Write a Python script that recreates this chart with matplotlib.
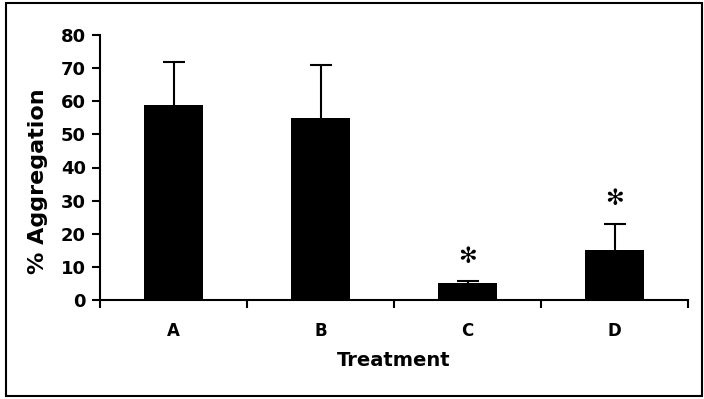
import matplotlib
matplotlib.use("Agg")
import matplotlib.pyplot as plt
from matplotlib.patches import Rectangle
from matplotlib.ticker import FixedLocator, NullFormatter

categories = ["A", "B", "C", "D"]
values = [59, 55, 5, 15]
err_upper = [13, 16, 0.6, 8]
significant = [False, False, True, True]
yticks = [0, 10, 20, 30, 40, 50, 60, 70, 80]

plt.rcParams['font.family'] = ['DejaVu Sans']
fig = plt.figure(figsize=(7.04, 3.99), dpi=100)
ax = fig.add_axes([100/704, 1-300/399, 588/704, 265/399])

x = list(range(len(categories)))
ax.bar(x, values, width=0.4, color="black", zorder=2)
eb = ax.errorbar(x, values, yerr=[[0]*len(values), err_upper], fmt="none",
                 ecolor="black", elinewidth=1.5, capsize=8, capthick=1.5, zorder=1)
eb[1][0].set_visible(False)

for xi, v, e, s in zip(x, values, err_upper, significant):
    if s:
        ax.text(xi, v + e + 4.5, "✻", ha="center", va="bottom",
                fontsize=16, color="black")

ax.set_xlim(-0.5, len(categories) - 0.5)
ax.set_ylim(0, 80)
ax.set_yticks(yticks)
ax.set_yticklabels([str(t) for t in yticks], fontsize=13, fontweight="bold")
ax.xaxis.set_major_locator(FixedLocator([i - 0.5 for i in range(len(categories) + 1)]))
ax.xaxis.set_major_formatter(NullFormatter())
ax.xaxis.set_minor_locator(FixedLocator(x))
ax.set_xticklabels(categories, minor=True, fontsize=12, fontweight="bold")
ax.tick_params(axis="x", which="minor", length=0, pad=16)
ax.tick_params(axis="x", which="major", length=6, width=1.5, direction="out")
ax.tick_params(axis="y", length=6, width=1.5, direction="out", pad=4)

for sp in ["top", "right"]:
    ax.spines[sp].set_visible(False)
for sp in ["left", "bottom"]:
    ax.spines[sp].set_linewidth(1.5)

ax.set_ylabel("% Aggregation", fontsize=16, fontweight="bold", va="center")
ax.yaxis.set_label_coords(-0.105, 0.45)
ax.set_xlabel("Treatment", fontsize=14, fontweight="bold", labelpad=8)

fig.patches.append(Rectangle((6/704, 3/399), 696/704, 393/399, transform=fig.transFigure,
                             fill=False, edgecolor="black", linewidth=1.5))

fig.savefig("out.png", dpi=100)
